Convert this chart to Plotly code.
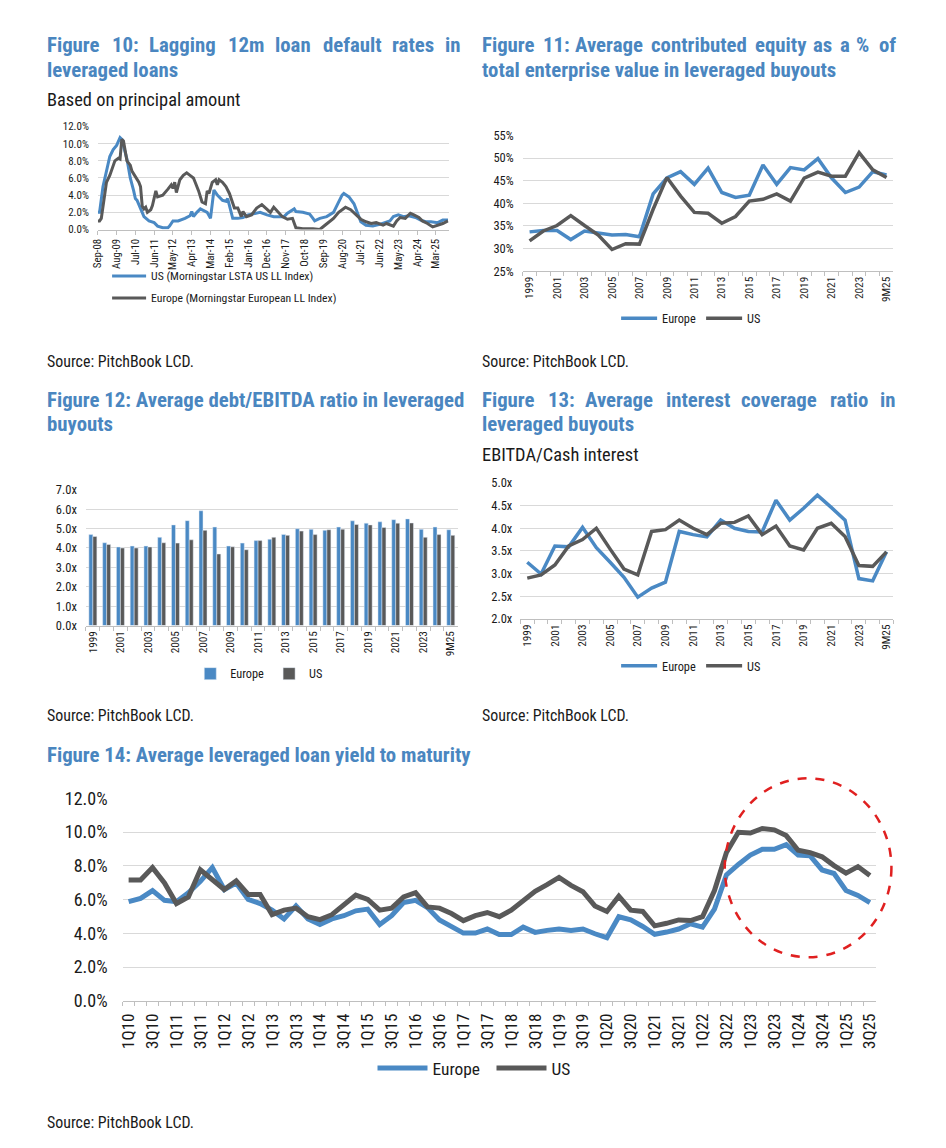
import plotly.graph_objects as go
import pandas as pd

W, H = 946, 1148
OX, OY = 8, 8                      # browser body margin
FW, FH = W - 2 * OX, H - 2 * OY
FONT = "Roboto Condensed, Liberation Sans Narrow, Arial Narrow, Liberation Sans, sans-serif"
BLUE = "#4A89C4"
GRAY = "#595959"
TITLE_BLUE = "#4A86C0"
GRID = "#D9D9D9"
AXL = "#BFBFBF"
TXT = "#1a1a1a"

# ---------------- data ----------------
# Figure 10: lagging 12m default rates (%)
f10_us_dates = ["2008-09", "2008-10", "2008-12", "2009-03", "2009-04", "2009-06", "2009-08", "2009-10",
                "2009-11", "2010-02", "2010-04", "2010-06", "2010-07", "2010-08", "2010-10", "2010-12",
                "2011-03", "2011-06", "2011-08", "2011-11", "2012-02", "2012-03", "2012-05", "2012-08",
                "2012-12", "2013-03", "2013-04", "2013-05", "2013-07", "2013-09", "2014-01", "2014-03",
                "2014-05", "2014-07", "2014-10", "2014-12", "2015-01", "2015-04", "2015-07", "2015-10",
                "2016-01", "2016-08", "2016-12", "2017-04", "2017-10", "2017-12", "2018-04", "2018-05",
                "2018-09", "2019-01", "2019-03", "2019-04", "2019-07", "2019-11", "2020-03", "2020-06",
                "2020-08", "2020-09", "2020-12", "2021-03", "2021-04", "2021-07", "2021-10", "2022-02",
                "2022-06", "2022-10", "2022-12", "2023-02", "2023-05", "2023-08", "2023-11", "2024-03",
                "2024-06", "2024-09", "2024-12", "2025-04", "2025-07", "2025-10"]
f10_us_vals = [2.0, 2.0, 5.0, 7.8, 8.5, 9.3, 9.8, 10.7,
               10.5, 8.2, 6.0, 4.5, 3.6, 3.4, 2.5, 1.5,
               1.0, 0.8, 0.4, 0.2, 0.2, 0.4, 1.0, 1.0,
               1.3, 1.6, 2.1, 1.5, 2.0, 2.4, 2.0, 1.3,
               4.6, 4.0, 3.4, 3.3, 3.6, 1.3, 1.3, 1.4,
               1.7, 2.0, 1.7, 1.5, 1.5, 1.9, 2.4, 2.1,
               2.0, 1.8, 1.3, 1.0, 1.3, 1.5, 2.0, 3.3,
               4.0, 4.2, 3.8, 3.0, 2.5, 0.9, 0.5, 0.4,
               0.6, 0.9, 1.0, 1.5, 1.7, 1.5, 1.6, 1.4,
               1.1, 0.9, 0.9, 0.8, 1.1, 1.1]
f10_eu_dates = ["2008-09", "2008-10", "2008-11", "2009-01", "2009-02", "2009-04", "2009-06", "2009-07",
                "2009-09", "2009-10", "2009-11", "2009-12", "2010-02", "2010-04", "2010-05", "2010-07",
                "2010-09", "2010-10", "2010-11", "2010-12", "2011-01", "2011-02", "2011-04", "2011-05",
                "2011-07", "2011-08", "2011-11", "2012-02", "2012-04", "2012-05", "2012-06", "2012-07",
                "2012-09", "2012-11", "2013-01", "2013-03", "2013-05", "2013-06", "2013-08", "2013-10",
                "2013-12", "2014-01", "2014-02", "2014-04", "2014-06", "2014-07", "2014-08", "2014-10",
                "2014-12", "2015-02", "2015-03", "2015-05", "2015-07", "2015-09", "2015-10", "2015-12",
                "2016-03", "2016-06", "2016-09", "2016-11", "2017-02", "2017-04", "2017-07", "2017-09",
                "2017-12", "2018-03", "2018-05", "2018-09", "2019-03", "2019-07", "2019-10", "2020-01",
                "2020-03", "2020-06", "2020-09", "2020-10", "2021-01", "2021-04", "2021-07", "2021-10",
                "2022-01", "2022-04", "2022-08", "2022-10", "2023-01", "2023-02", "2023-04", "2023-06",
                "2023-09", "2023-12", "2024-02", "2024-05", "2024-07", "2024-10", "2025-01", "2025-04",
                "2025-07", "2025-10"]
f10_eu_vals = [1.0, 1.0, 1.3, 4.5, 5.5, 6.3, 7.5, 8.0,
               8.3, 8.2, 10.5, 10.3, 8.0, 7.5, 6.8, 6.2,
               5.5, 5.0, 2.7, 2.4, 2.6, 2.0, 2.3, 2.8,
               4.5, 3.8, 4.0, 4.7, 5.2, 4.8, 5.5, 4.3,
               5.8, 6.3, 6.6, 6.3, 6.0, 5.5, 4.5, 3.2,
               3.0, 4.5, 4.2, 5.5, 5.8, 5.2, 5.8, 5.5,
               5.0, 4.2, 3.7, 2.5, 2.5, 1.5, 2.1, 1.5,
               1.7, 2.5, 2.9, 2.5, 2.0, 2.6, 2.0, 1.5,
               1.2, 1.3, 0.2, 0.1, 0.1, 0.0, 0.5, 1.0,
               1.3, 2.0, 2.5, 2.6, 2.3, 1.8, 1.2, 0.9,
               0.7, 0.8, 0.5, 0.7, 0.5, 0.4, 1.0, 1.4,
               1.3, 1.9, 1.7, 1.4, 1.0, 0.7, 0.3, 0.5,
               0.7, 1.0]
f10_ticks = ["Sep-08", "Aug-09", "Jul-10", "Jun-11", "May-12", "Apr-13", "Mar-14", "Feb-15", "Jan-16",
             "Dec-16", "Nov-17", "Oct-18", "Sep-19", "Aug-20", "Jul-21", "Jun-22", "May-23", "Apr-24",
             "Mar-25"]

# Figures 11-13: annual categories
years = [str(y) for y in range(1999, 2025)] + ["9M25"]
f11_eu = [33.7, 34.0, 34.0, 32.0, 33.9, 33.5, 33.0, 33.1, 32.6, 42.1, 45.6, 47.0, 44.2, 47.8,
          42.4, 41.3, 41.8, 48.5, 44.2, 47.9, 47.4, 49.9, 45.6, 42.4, 43.6, 47.0, 46.3]
f11_us = [31.7, 33.9, 35.1, 37.3, 35.1, 33.0, 29.8, 31.1, 31.0, 38.7, 45.7, 41.6, 38.0, 37.8,
          35.6, 37.1, 40.5, 40.9, 42.1, 40.5, 45.6, 46.9, 46.0, 46.0, 51.2, 47.4, 45.7]
f12_eu = [4.69, 4.27, 4.05, 4.10, 4.10, 4.55, 5.19, 5.41, 5.92, 5.08, 4.10, 4.25, 4.38, 4.45,
          4.70, 4.99, 4.96, 4.91, 5.08, 5.40, 5.28, 5.35, 5.46, 5.50, 4.96, 5.08, 4.94]
f12_us = [4.59, 4.18, 4.00, 4.00, 4.05, 4.27, 4.25, 4.42, 4.91, 3.69, 4.06, 3.91, 4.38, 4.55,
          4.65, 4.87, 4.69, 4.94, 4.97, 5.21, 5.19, 5.06, 5.28, 5.29, 4.55, 4.69, 4.65]
f13_eu = [3.25, 2.99, 3.61, 3.59, 4.02, 3.57, 3.25, 2.92, 2.48, 2.68, 2.81, 3.93, 3.86, 3.81,
          4.18, 4.00, 3.93, 3.92, 4.62, 4.18, 4.44, 4.73, 4.46, 4.18, 2.89, 2.84, 3.48]
f13_us = [2.90, 2.97, 3.19, 3.61, 3.75, 4.00, 3.54, 3.10, 2.97, 3.93, 3.97, 4.18, 4.00, 3.86,
          4.11, 4.13, 4.27, 3.86, 4.05, 3.61, 3.52, 4.00, 4.11, 3.82, 3.18, 3.16, 3.48]

# Figure 14: quarterly yields (%)
quarters = [f"{q}Q{y:02d}" for y in range(10, 26) for q in range(1, 5)][:63]
f14_eu = [5.87, 6.07, 6.53, 5.95, 5.87, 6.40, 7.08, 7.89, 6.59, 6.98, 6.01, 5.76, 5.37, 4.85,
          5.62, 4.85, 4.52, 4.85, 5.04, 5.33, 5.43, 4.52, 5.04, 5.82, 5.95, 5.52, 4.79, 4.36,
          4.01, 4.01, 4.25, 3.92, 3.92, 4.36, 4.05, 4.17, 4.25, 4.17, 4.25, 3.97, 3.74, 4.98,
          4.79, 4.40, 3.94, 4.07, 4.25, 4.56, 4.36, 5.43, 7.46, 8.08, 8.63, 8.98, 8.98, 9.25,
          8.63, 8.59, 7.75, 7.54, 6.53, 6.24, 5.82]
f14_us = [7.15, 7.15, 7.89, 6.98, 5.76, 6.15, 7.76, 7.17, 6.59, 7.11, 6.30, 6.30, 5.10, 5.37,
          5.49, 4.98, 4.81, 5.10, 5.68, 6.26, 6.01, 5.37, 5.49, 6.15, 6.40, 5.56, 5.49, 5.17,
          4.75, 5.04, 5.23, 4.98, 5.37, 5.95, 6.49, 6.88, 7.31, 6.84, 6.46, 5.62, 5.29, 6.20,
          5.37, 5.29, 4.44, 4.59, 4.79, 4.75, 4.98, 6.53, 8.78, 9.98, 9.94, 10.21, 10.13, 9.79,
          8.92, 8.78, 8.53, 8.01, 7.56, 7.95, 7.42]


def px(x):
    return (x - OX) / FW


def py(y):
    return 1 - (y - OY) / FH


fig = go.Figure()

# Figure 10
fig.add_trace(go.Scatter(x=f10_us_dates, y=f10_us_vals, mode="lines", name="US (Morningstar LSTA US LL Index)",
                         line=dict(color=BLUE, width=3), xaxis="x", yaxis="y", legend="legend", legendgroup="a"))
fig.add_trace(go.Scatter(x=f10_eu_dates, y=f10_eu_vals, mode="lines", name="Europe (Morningstar European LL Index)",
                         line=dict(color=GRAY, width=3), xaxis="x", yaxis="y", legend="legend", legendgroup="b"))
# Figure 11
fig.add_trace(go.Scatter(x=years, y=f11_eu, mode="lines", name="Europe", line=dict(color=BLUE, width=3.5),
                         xaxis="x2", yaxis="y2", legend="legend2"))
fig.add_trace(go.Scatter(x=years, y=f11_us, mode="lines", name="US", line=dict(color=GRAY, width=3.5),
                         xaxis="x2", yaxis="y2", legend="legend2"))
# Figure 12
fig.add_trace(go.Bar(x=years, y=f12_eu, name="Europe", marker=dict(color=BLUE), xaxis="x3", yaxis="y3",
                     legend="legend3"))
fig.add_trace(go.Bar(x=years, y=f12_us, name="US", marker=dict(color=GRAY), xaxis="x3", yaxis="y3",
                     legend="legend3"))
# Figure 13
fig.add_trace(go.Scatter(x=years, y=f13_eu, mode="lines", name="Europe", line=dict(color=BLUE, width=3.5),
                         xaxis="x4", yaxis="y4", legend="legend4"))
fig.add_trace(go.Scatter(x=years, y=f13_us, mode="lines", name="US", line=dict(color=GRAY, width=3.5),
                         xaxis="x4", yaxis="y4", legend="legend4"))
# Figure 14
fig.add_trace(go.Scatter(x=quarters, y=f14_eu, mode="lines", name="Europe", line=dict(color=BLUE, width=5),
                         xaxis="x5", yaxis="y5", legend="legend5"))
fig.add_trace(go.Scatter(x=quarters, y=f14_us, mode="lines", name="US", line=dict(color=GRAY, width=5),
                         xaxis="x5", yaxis="y5", legend="legend5"))


def xcat(dom, anchor, cats, size, every=2, standoff=0):
    return dict(domain=dom, anchor=anchor, type="category", categoryorder="array", categoryarray=cats,
                range=[-0.5, len(cats) - 0.5], tickmode="array", tickvals=cats,
                ticktext=[c if (i % every == 0 or i == len(cats) - 1) else "" for i, c in enumerate(cats)],
                tickson="boundaries", ticks="outside", ticklen=4, tickcolor=AXL, showline=True,
                linecolor=AXL, showgrid=False, tickangle=-90, ticklabelstandoff=standoff,
                tickfont=dict(size=size, color=TXT, family=FONT), fixedrange=True)


def yax(dom, anchor, rng, dtick, size, suffix, fmt, standoff):
    return dict(domain=dom, anchor=anchor, range=rng, dtick=dtick, tick0=rng[0], showgrid=True, gridcolor=GRID,
                gridwidth=1, zeroline=False, showline=False, ticks="", ticksuffix=suffix, tickformat=fmt,
                ticklabelstandoff=standoff, tickfont=dict(size=size, color=TXT, family=FONT), fixedrange=True)


f10_tickvals = [pd.to_datetime(t, format="%b-%y").strftime("%Y-%m-%d") for t in f10_ticks]

layout = dict(
    width=FW, height=FH, margin=dict(l=0, r=0, t=0, b=0), paper_bgcolor="white", plot_bgcolor="white",
    font=dict(family=FONT, color=TXT), barmode="group", bargap=0.42, bargroupgap=0.0, showlegend=True,
    xaxis=dict(domain=[px(92.7), px(447)], anchor="y", type="date", range=["2008-09-01", "2025-10-15"],
               tickmode="array", tickvals=f10_tickvals, ticktext=f10_ticks, ticks="outside", ticklen=4,
               tickcolor=AXL, showline=True, linecolor=AXL, showgrid=False, tickangle=-90,
               tickfont=dict(size=10.8, color=TXT, family=FONT), fixedrange=True),
    yaxis=yax([py(222.5), py(117.5)], "x", [0, 12], 2, 11, "%", ".1f", 8),
    xaxis2=xcat([px(521.7), px(896)], "y2", years, 11.3),
    yaxis2=yax([py(265), py(126.7)], "x2", [25, 55], 5, 12.5, "%", "d", 8),
    xaxis3=xcat([px(80.7), px(456)], "y3", years, 11.3),
    yaxis3=yax([py(626), py(487.7)], "x3", [0, 7], 1, 12.5, "x", ".1f", 8),
    xaxis4=xcat([px(519.3), px(896)], "y4", years, 11.3),
    yaxis4=yax([py(619.3), py(480.7)], "x4", [2, 5], 0.5, 12.5, "x", ".1f", 7),
    xaxis5=xcat([px(117.7), px(878.3)], "y5", quarters, 17, standoff=5),
    yaxis5=yax([py(1008.3), py(802)], "x5", [0, 12], 2, 18, "%", ".1f", 14),
    legend=dict(x=px(102), y=py(255), xanchor="left", yanchor="top", orientation="v", tracegroupgap=3,
                itemwidth=34, font=dict(size=11.7, family=FONT, color=TXT), bgcolor="rgba(0,0,0,0)"),
    legend2=dict(x=px(616), y=py(313), xanchor="left", yanchor="middle", orientation="h", entrywidth=34,
                 itemwidth=36, font=dict(size=12.3, family=FONT, color=TXT), bgcolor="rgba(0,0,0,0)"),
    legend3=dict(x=px(186), y=py(675), xanchor="left", yanchor="middle", orientation="h",
                 font=dict(size=12.3, family=FONT, color=TXT), bgcolor="rgba(0,0,0,0)"),
    legend4=dict(x=px(616), y=py(667), xanchor="left", yanchor="middle", orientation="h", entrywidth=34,
                 itemwidth=36, font=dict(size=12.3, family=FONT, color=TXT), bgcolor="rgba(0,0,0,0)"),
    legend5=dict(x=px(370), y=py(1077), xanchor="left", yanchor="middle", orientation="h", entrywidth=54,
                 itemwidth=50, font=dict(size=17.4, family=FONT, color=TXT), bgcolor="rgba(0,0,0,0)"),
)
fig.update_layout(**layout)

# Arial Bold advance widths (1/1000 em); scaled for a condensed face when justifying title lines
AB = {" ": 278, ":": 333, "%": 889, "/": 278, "F": 611, "L": 611, "A": 722, "E": 667, "B": 722, "I": 278,
      "T": 611, "D": 722, "a": 556, "b": 611, "c": 556, "d": 611, "e": 556, "f": 333, "g": 611, "h": 611,
      "i": 278, "k": 556, "l": 278, "m": 889, "n": 611, "o": 611, "p": 611, "q": 611, "r": 389, "s": 556,
      "t": 333, "u": 611, "v": 556, "w": 778, "x": 556, "y": 556}
for d in "0123456789":
    AB[d] = 556
COND = 0.852
TSIZE = 20.8


def text_w(s, size):
    return sum(AB.get(c, 600) for c in s) * COND * size / 1000


def ann(t, x, y, size, color, bold=False):
    fig.add_annotation(text=f"<b>{t}</b>" if bold else t, xref="paper", yref="paper", x=px(x), y=py(y),
                       xanchor="left", yanchor="middle", showarrow=False, borderpad=0,
                       font=dict(size=size, family=FONT, color=color))


def title(line, x0, y, right=None):
    if right is None:
        ann(line, x0, y, TSIZE, TITLE_BLUE, True)
        return
    words = line.split(" ")
    ws = [text_w(w, TSIZE) for w in words]
    gap = (right - x0 - sum(ws)) / (len(words) - 1)
    if gap < text_w(" ", TSIZE) * 1.2:      # line already full: keep natural spacing
        ann(line, x0, y, TSIZE, TITLE_BLUE, True)
        return
    x = x0
    for w, wd in zip(words, ws):
        ann(w, x, y, TSIZE, TITLE_BLUE, True)
        x += wd + gap


title("Figure 10: Lagging 12m loan default rates in", 40, 35, 458)
title("leveraged loans", 40, 60)
title("Figure 11: Average contributed equity as a % of", 480, 35, 897)
title("total enterprise value in leveraged buyouts", 480, 60)
title("Figure 12: Average debt/EBITDA ratio in leveraged", 40, 396, 458)
title("buyouts", 40, 421)
title("Figure 13: Average interest coverage ratio in", 480, 396, 897)
title("leveraged buyouts", 480, 421)
title("Figure 14: Average leveraged loan yield to maturity", 40, 758)

ann("Based on principal amount", 40, 90, 18.4, TXT)
ann("EBITDA/Cash interest", 480, 452, 18.4, TXT)
for sx, sy in [(40, 357), (480, 357), (40, 718), (480, 718), (40, 1132)]:
    ann("Source: PitchBook LCD.", sx, sy, 15.9, TXT)

fig.add_shape(type="circle", xref="paper", yref="paper", x0=px(725.7), x1=px(894), y0=py(964), y1=py(781.7),
              line=dict(color="#E02020", width=2.5, dash="dash"))

fig.write_html("out.html", config={"displayModeBar": False})
